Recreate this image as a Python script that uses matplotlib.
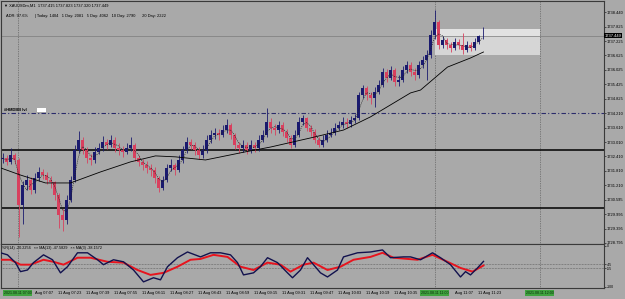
import numpy as np
import pandas as pd
import matplotlib
matplotlib.use("Agg")
import matplotlib.pyplot as plt
from matplotlib.patches import Rectangle
import matplotlib.transforms as mtrans

# XAUUSDm M1 candles (one entry per bar)
first_open = 1732.30
closes = [
    1732.34, 1732.18, 1732.47, 1732.26, 1730.38, 1731.22, 1731.43, 1731.01, 1731.51, 1731.76,
    1731.63, 1731.43, 1731.34, 1730.80, 1729.96, 1729.76, 1730.59, 1731.43, 1732.68, 1733.10,
    1732.68, 1732.34, 1732.26, 1732.60, 1732.76, 1733.01, 1732.89, 1733.10, 1732.76, 1732.68,
    1732.60, 1732.76, 1732.89, 1732.34, 1732.18, 1732.05, 1731.93, 1731.84, 1731.51, 1731.09,
    1731.43, 1731.93, 1732.05, 1731.84, 1732.26, 1732.68, 1733.01, 1732.89, 1732.68, 1732.47,
    1732.68, 1733.10, 1733.30, 1733.39, 1733.30, 1733.51, 1733.72, 1733.30, 1732.89, 1732.76,
    1732.89, 1732.68, 1732.89, 1732.76, 1733.10, 1733.30, 1733.85, 1733.60, 1733.51, 1733.72,
    1733.43, 1733.18, 1732.89, 1733.30, 1733.85, 1734.01, 1733.60, 1733.43, 1733.10, 1732.89,
    1733.10, 1733.30, 1733.39, 1733.60, 1733.72, 1733.85, 1733.76, 1733.93, 1734.01, 1734.97,
    1735.27, 1734.97, 1734.85, 1735.10, 1735.39, 1735.94, 1735.68, 1736.02, 1735.52, 1735.60,
    1736.02, 1736.23, 1735.94, 1735.81, 1736.23, 1736.44, 1736.65, 1737.48, 1738.02, 1737.06,
    1737.27, 1737.06, 1736.94, 1737.19, 1737.06, 1736.85, 1737.06, 1736.94, 1737.19, 1737.42,
    1737.45]
highs = [
    1732.55, 1732.45, 1732.75, 1732.55, 1732.35, 1731.40, 1731.65, 1731.55, 1731.70, 1731.95,
    1731.90, 1731.75, 1731.60, 1731.40, 1730.90, 1730.20, 1730.80, 1731.60, 1732.90, 1733.45,
    1733.20, 1732.80, 1732.50, 1732.80, 1732.95, 1733.25, 1733.15, 1733.30, 1733.20, 1732.95,
    1732.85, 1732.95, 1733.20, 1732.95, 1732.45, 1732.30, 1732.20, 1732.10, 1731.95, 1731.60,
    1731.60, 1732.10, 1732.30, 1732.15, 1732.45, 1732.85, 1733.20, 1733.15, 1733.00, 1732.80,
    1732.90, 1733.30, 1733.50, 1733.60, 1733.55, 1733.70, 1733.97, 1733.80, 1733.40, 1733.00,
    1733.10, 1733.00, 1733.10, 1733.00, 1733.30, 1733.50, 1734.43, 1734.00, 1733.75, 1733.90,
    1733.85, 1733.55, 1733.30, 1733.50, 1734.05, 1734.14, 1734.05, 1733.70, 1733.55, 1733.20,
    1733.30, 1733.50, 1733.60, 1733.80, 1733.90, 1734.05, 1734.00, 1734.10, 1734.20, 1735.10,
    1735.39, 1735.35, 1735.10, 1735.30, 1735.60, 1736.10, 1736.05, 1736.20, 1736.10, 1735.80,
    1736.20, 1736.40, 1736.35, 1736.10, 1736.40, 1736.60, 1736.85, 1737.70, 1738.52, 1738.10,
    1737.45, 1737.35, 1737.20, 1737.35, 1737.30, 1737.56, 1737.25, 1737.20, 1737.35, 1737.50,
    1737.82]
lows = [
    1732.15, 1732.05, 1732.10, 1732.10, 1729.05, 1729.60, 1731.00, 1730.85, 1730.90, 1731.40,
    1731.45, 1731.25, 1731.10, 1730.60, 1729.40, 1729.30, 1729.60, 1730.50, 1731.35, 1732.55,
    1732.50, 1732.15, 1732.05, 1732.15, 1732.50, 1732.65, 1732.70, 1732.80, 1732.60, 1732.45,
    1732.40, 1732.50, 1732.65, 1732.20, 1732.00, 1731.85, 1731.70, 1731.60, 1731.30, 1730.93,
    1731.00, 1731.35, 1731.80, 1731.65, 1731.75, 1732.15, 1732.55, 1732.70, 1732.45, 1732.30,
    1732.35, 1732.55, 1732.95, 1733.15, 1733.10, 1733.20, 1733.40, 1733.15, 1732.70, 1732.55,
    1732.60, 1732.50, 1732.55, 1732.60, 1732.65, 1733.00, 1733.20, 1733.40, 1733.30, 1733.40,
    1733.25, 1733.00, 1732.76, 1732.80, 1733.20, 1733.70, 1733.45, 1733.25, 1732.95, 1732.80,
    1732.80, 1733.00, 1733.20, 1733.30, 1733.50, 1733.60, 1733.60, 1733.65, 1733.80, 1733.95,
    1734.85, 1734.75, 1734.60, 1734.47, 1735.00, 1735.30, 1735.50, 1735.60, 1735.35, 1735.35,
    1735.50, 1735.90, 1735.75, 1735.60, 1735.70, 1736.10, 1735.60, 1736.50, 1737.30, 1736.90,
    1736.95, 1736.90, 1736.75, 1736.85, 1736.90, 1736.70, 1736.75, 1736.80, 1736.85, 1737.10,
    1737.32]

# slow moving average (solid black line), sampled at bar positions
slow_ma_bar = [-0.5, 4.5, 10.75, 17, 24.5, 32, 38.25, 43.25, 50.75, 60.75, 67, 77, 85.25,
               92, 102, 104.5, 111.25, 117, 120.25]
slow_ma = [1731.93, 1731.63, 1731.30, 1731.30, 1731.76, 1732.18, 1732.43, 1732.39, 1732.26,
           1732.60, 1732.80, 1733.18, 1733.51, 1734.06, 1735.06, 1735.18, 1736.14, 1736.52, 1736.77]

# %R(14) panel: MA(3) navy and MA(13) red
ma3_bar = [-0.5, 1.25, 3.25, 4.5, 6.25, 7.75, 10.25, 12.5, 14.5, 16.25, 18.75, 21.25, 23.75,
           25.25, 27.75, 30.25, 32.75, 35.25, 37.75, 39.5, 41.25, 43.75, 46.25, 49.5, 52, 54.5,
           57, 58.75, 60.25, 62.75, 64.5, 66.25, 68.75, 71.25, 72.5, 74.5, 76.25, 77.75, 79.5,
           81.25, 83.75, 85.25, 88.75, 92, 95, 97, 100.25, 102, 104.5, 107.5, 109.5, 112, 114.5,
           115.75, 117, 118.75, 120.25]
ma3 = [-17, -22, -41, -63, -59, -41, -22, -34, -66, -51, -17, -17, -34, -46, -34, -39, -59,
       -88, -78, -83, -51, -29, -15, -27, -17, -17, -22, -41, -71, -66, -51, -29, -41, -66, -78,
       -59, -29, -46, -66, -76, -59, -27, -17, -15, -10, -29, -27, -27, -34, -17, -29, -46, -76,
       -63, -71, -54, -38]
ma13_bar = [-0.5, 2, 4.5, 7, 10.25, 12.75, 15.25, 18.75, 22, 26.25, 30.25, 33.75, 37, 40.25,
            43.75, 47, 49.5, 52.75, 56.25, 59.5, 62.75, 66.25, 69.5, 72, 75.25, 77.75, 81.25,
            84.5, 87.75, 92, 95, 97.75, 103.75, 107.5, 111.25, 114.5, 117.5, 120.25]
ma13 = [-34, -34, -46, -46, -34, -39, -46, -29, -29, -39, -41, -59, -71, -66, -51, -34, -32,
        -22, -27, -51, -59, -41, -46, -63, -46, -41, -59, -51, -34, -27, -17, -29, -34, -22,
        -39, -54, -63, -48]

price_ticks = [1738.440, 1737.825, 1737.225, 1736.625, 1736.025, 1735.425, 1734.825, 1734.210,
               1733.610, 1733.010, 1732.410, 1731.810, 1731.210, 1730.595, 1729.995, 1729.395,
               1728.795]
# time labels (bar position, text); the ones partly hidden by the green line labels are cut
time_pos = [8.1, 14, 21, 28, 35, 42, 49, 56, 63, 70, 77, 84, 91, 98, 113.1, 119]
time_labels = ["Aug 07:07", "11 Aug 07:23", "11 Aug 07:39", "11 Aug 07:55",
               "11 Aug 08:11", "11 Aug 08:27", "11 Aug 08:43", "11 Aug 08:59", "11 Aug 09:15",
               "11 Aug 09:31", "11 Aug 09:47", "11 Aug 10:03", "11 Aug 10:19", "11 Aug 10:35",
               "Aug 11:07", "11 Aug 11:23"]
vline_bars = [3.75, 108, 134.25]
vline_labels = ["2021.08.11 07:00", "2021.08.11 11:00", "2021.08.11 12:00"]
black_levels = [1732.68, 1730.26]
blue_level = 1734.21
last_price = 1737.449
box_bars = (108, 134.25)
box_prices = (1736.64, 1737.73)

BG = "#a9a9a9"
FS = 2.9
plt.rcParams["font.family"] = ["Liberation Sans", "DejaVu Sans"]

opens = [first_open] + closes[:-1]
idx = np.arange(len(closes))
o = np.array(opens)
c = np.array(closes)
up = c >= o
cols = np.where(up, "#1a1a6e", "#d8405e")
fast_ma = pd.Series(closes).rolling(3, min_periods=1).mean()

fig = plt.figure(figsize=(6.25, 2.99), dpi=100, facecolor=BG)
W, H = 625.0, 299.0
ax = fig.add_axes([0.5 / W, 1 - 244 / H, 603 / W, 243 / H], facecolor=BG)
ax2 = fig.add_axes([0.5 / W, 1 - 288 / H, 603 / W, 44 / H], facecolor=BG)

xmin, xmax = -0.5, 150.25
for a in (ax, ax2):
    a.set_xlim(xmin, xmax)
    for s in a.spines.values():
        s.set_color("#3a3a3a")
        s.set_linewidth(0.8)
    a.set_xticks([])
    for vb in vline_bars:
        a.axvline(vb, color="#4a4a4a", lw=0.5, ls=(0, (1, 1.5)), zorder=1)

ax.set_ylim(1728.75, 1738.90)

# rectangle zone
ax.add_patch(Rectangle((box_bars[0], box_prices[0]), box_bars[1] - box_bars[0],
                       box_prices[1] - box_prices[0], facecolor="#d6d6d6", edgecolor="none", zorder=1))
ax.add_patch(Rectangle((box_bars[0], last_price), box_bars[1] - box_bars[0],
                       box_prices[1] - last_price, facecolor="#e2e2e2", edgecolor="none", zorder=1))

ax.axhline(last_price, color="#7c7c7c", lw=0.5, zorder=1.5)
for lv in black_levels:
    ax.axhline(lv, color="black", lw=1.1, zorder=2)
ax.axhline(blue_level, color="#2b2b6b", lw=0.8, ls=(0, (4, 2, 1, 2)), zorder=2)

# candles
ax.vlines(idx, lows, highs, colors=cols, lw=0.6, zorder=3)
body = np.maximum(np.abs(c - o), 0.02)
ax.bar(idx, body, bottom=np.minimum(o, c), width=0.62, color=cols, lw=0, zorder=4)

ax.plot(slow_ma_bar, slow_ma, color="black", lw=0.6, zorder=5)
ax.plot(idx, fast_ma, color="#202020", lw=0.5, ls=(0, (1.5, 1.5)), zorder=5)

ax.yaxis.tick_right()
ax.set_yticks(price_ticks)
ax.set_yticklabels([f"{t:.3f}" for t in price_ticks], fontsize=FS)
ax.tick_params(axis="y", length=1.5, width=0.4, pad=1, colors="black")

ax.text(1.0015, last_price, f"{last_price:.3f}", transform=ax.get_yaxis_transform(),
        fontsize=FS, color="white", va="center", ha="left",
        bbox=dict(boxstyle="square,pad=0.15", facecolor="black", edgecolor="none"), zorder=10,
        clip_on=False)

ax.text(3 / 603, 1 - 4.5 / 243, "\u25bc XAUUSDm,M1  1737.415 1737.823 1737.320 1737.449",
        transform=ax.transAxes, fontsize=FS, va="center", ha="left")
ax.text(5 / 603, 1 - 15.5 / 243,
        "ADR: 97.6%      | Today: 1404   1 Day: 2081   5 Day: 4062   10 Day: 2790      20 Day: 2222",
        transform=ax.transAxes, fontsize=FS, va="center", ha="left")
ax.text(0.3, blue_level + 0.12, "#HMDBB lvl", fontsize=FS, fontweight="bold", va="center", ha="left")
ax.add_patch(Rectangle((8.5, blue_level + 0.06), 2.4, 0.14, facecolor="white", edgecolor="none", zorder=6))

# oscillator panel
ax2.set_ylim(-103, 4.5)
for lv in (-45, -55):
    ax2.axhline(lv, color="#555555", lw=0.5, ls=(0, (1, 1.2)), zorder=1)
ax2.plot(ma13_bar, ma13, color="#e8141e", lw=1.4, zorder=3)
ax2.plot(ma3_bar, ma3, color="#12124e", lw=1.0, zorder=4)
ax2.yaxis.tick_right()
ax2.set_yticks([0, -45, -55, -100])
ax2.set_yticklabels(["0", "-45", "-55", "-100"], fontsize=FS - 0.4)
ax2.tick_params(axis="y", length=1.5, width=0.4, pad=1)
ax2.text(2 / 603, 1 - 3.5 / 44, "%R(14) -20.2256   \u00d7\u00d7 MA(13) -47.5829   \u00d7\u00d7 MA(3) -38.1572",
         transform=ax2.transAxes, fontsize=FS - 0.2, va="center", ha="left")

# time axis
tr = mtrans.blended_transform_factory(ax2.transData, fig.transFigure)
for xp, lab in zip(time_pos, time_labels):
    ax2.text(xp, 1 - 293 / H, lab, transform=tr, fontsize=FS, ha="left", va="center",
             clip_on=False)
for vb, lab in zip(vline_bars, vline_labels):
    ax2.text(vb, 1 - 293 / H, lab, transform=tr, fontsize=FS - 0.3, ha="center", va="center",
             color="#0b2a0b", clip_on=False, zorder=10,
             bbox=dict(boxstyle="square,pad=0.15", facecolor="#3fa33f", edgecolor="none"))

fig.savefig("out.png", dpi=100, facecolor=BG)
